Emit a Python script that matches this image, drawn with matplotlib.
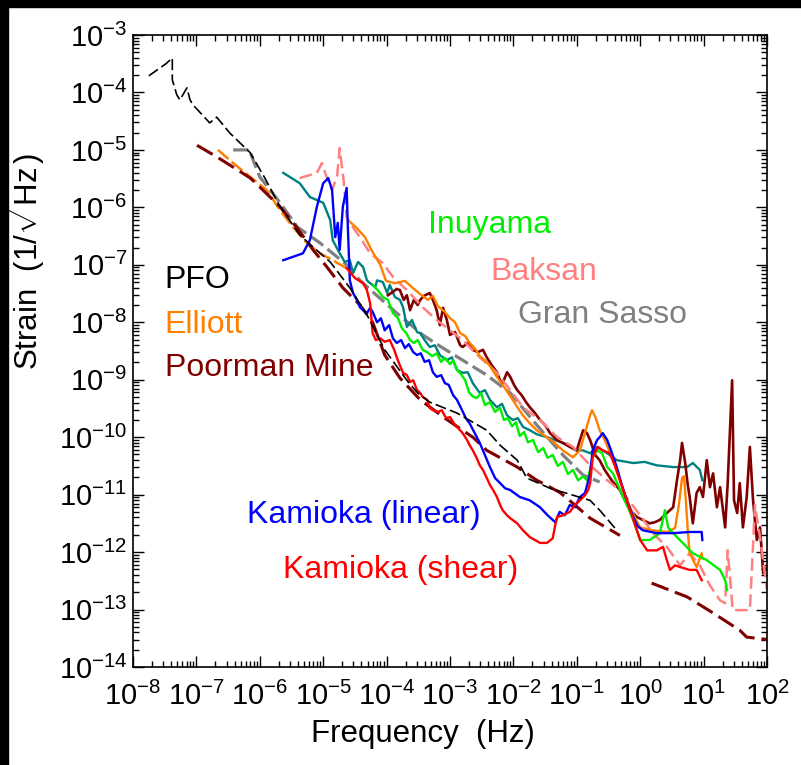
import numpy as np
import matplotlib
matplotlib.use("Agg")
import matplotlib.pyplot as plt
from matplotlib.ticker import LogLocator, NullFormatter
from matplotlib.patches import Rectangle

plt.rcParams['font.family'] = ['Liberation Sans', 'DejaVu Sans']
plt.rcParams['mathtext.fontset'] = 'custom'
plt.rcParams['mathtext.rm'] = 'Liberation Sans'
plt.rcParams['mathtext.it'] = 'Liberation Sans:italic'
plt.rcParams['lines.scale_dashes'] = False

# spectra, stored as log10(frequency / Hz) and log10(strain)
pfo_logf = [-7.75, -7.48, -7.38, -7.38, -7.31, -7.26, -7.15, -7.10, -7.05, -6.79, -6.68, -6.47,
            -6.15, -5.92, -5.68, -5.37, -5.16, -4.89, -4.58, -4.31, -4.03, -3.66, -3.51, -3.32,
            -2.89, -2.42, -2.21, -1.94, -1.79, -1.42, -0.79, -0.64, -0.40]
pfo_logs = [-3.71, -3.50, -3.40, -3.78, -4.04, -4.13, -3.92, -4.13, -4.22, -4.53, -4.43, -4.71,
            -5.05, -5.49, -5.99, -6.48, -6.69, -6.95, -7.40, -7.87, -8.48, -9.04, -9.23, -9.39,
            -9.58, -9.88, -10.14, -10.40, -10.71, -10.89, -11.10, -11.27, -11.58]

elliott_lo_logf = [-6.66, -6.42, -6.15, -5.89, -5.68, -5.48, -5.26, -5.05, -4.85, -4.63]
elliott_lo_logs = [-5.00, -5.23, -5.47, -5.70, -6.05, -6.34, -6.62, -6.80, -6.92, -7.06]

elliott_logf = [-4.61, -4.47, -4.34, -4.22, -4.10, -4.01, -3.87, -3.71, -3.60, -3.47, -3.35, -3.27,
                -3.19, -3.08, -3.00, -2.92, -2.84, -2.76, -2.69, -2.61, -2.53, -2.45, -2.37, -2.26,
                -2.17, -2.09, -2.01, -1.93, -1.85, -1.74, -1.63, -1.50, -1.38, -1.22, -1.06, -0.95,
                -0.86, -0.79, -0.76, -0.70, -0.64, -0.56, -0.48, -0.40, -0.32, -0.24, -0.16, -0.08,
                0.00, 0.20, 0.42, 0.55, 0.61, 0.66, 0.69, 0.72, 0.75, 0.78, 0.89, 0.97, 0.98]
elliott_logs = [-6.22, -6.36, -6.52, -6.78, -7.00, -7.28, -7.32, -7.28, -7.39, -7.51, -7.61, -7.54,
                -7.72, -7.82, -7.93, -8.00, -8.19, -8.24, -8.36, -8.45, -8.59, -8.66, -8.76, -8.95,
                -9.09, -9.22, -9.35, -9.49, -9.62, -9.76, -9.88, -9.98, -10.07, -10.23, -10.35, -10.23,
                -9.88, -9.62, -9.53, -9.67, -9.88, -10.05, -10.26, -10.50, -10.75, -11.01, -11.22, -11.41,
                -11.57, -11.62, -11.65, -11.58, -11.18, -10.71, -10.68, -11.10, -11.62, -12.02, -12.26, -12.02, -12.11]

baksan_logf = [-5.37, -5.10, -5.02, -4.94, -4.86, -4.78, -4.74, -4.67, -4.63, -4.58, -4.42, -4.26,
               -4.06, -3.90, -3.68, -3.43, -3.21, -3.00, -2.80, -2.53, -2.26, -2.05, -1.85, -1.58,
               -1.31, -1.06, -0.79, -0.52, -0.27, 0.00, 0.20, 0.42, 0.63, 0.78, 0.94, 1.10,
               1.26, 1.34, 1.38, 1.46, 1.73, 1.78, 1.81, 1.89, 2.00]
baksan_logs = [-5.49, -5.40, -5.23, -5.49, -5.70, -5.45, -4.97, -5.61, -6.17, -6.27, -6.52, -6.80,
               -6.97, -7.21, -7.44, -7.74, -7.96, -8.14, -8.31, -8.61, -8.88, -9.18, -9.48, -9.70,
               -10.00, -10.17, -10.49, -10.75, -10.97, -11.36, -11.67, -11.91, -12.23, -12.02, -12.23, -12.58,
               -12.84, -12.89, -11.97, -13.01, -13.01, -11.88, -11.18, -11.74, -12.66]

gransasso_logf = [-6.42, -6.15, -6.15, -6.00, -5.68, -5.41, -5.05, -4.63, -4.42, -4.22, -3.84, -3.43,
                  -3.11, -2.80, -2.42, -2.05, -1.63, -1.22, -0.90, -0.64]
gransasso_logs = [-5.00, -5.00, -5.05, -5.47, -5.92, -6.34, -6.62, -7.00, -7.27, -7.47, -7.84, -8.22,
                  -8.45, -8.66, -8.92, -9.23, -9.79, -10.31, -10.66, -10.78]

poorman_lo_logf = [-6.99, -6.68, -6.42, -6.15, -5.95, -5.68, -5.41, -5.16, -4.94, -4.69, -4.42, -4.22,
                   -4.03, -3.79, -3.47, -3.08, -2.64, -2.42, -1.94, -1.63, -1.27, -1.03, -0.79, -0.32]
poorman_lo_logs = [-4.92, -5.12, -5.30, -5.49, -5.70, -5.99, -6.36, -6.74, -7.04, -7.40, -7.70, -8.00,
                   -8.57, -8.97, -9.35, -9.67, -10.00, -10.23, -10.52, -10.75, -10.96, -11.18, -11.41, -11.71]

poorman_hi_logf = [0.18, 0.74, 1.15, 1.57, 1.68, 2.00]
poorman_hi_logs = [-12.54, -12.78, -13.06, -13.36, -13.48, -13.52]

poorman_logf = [-3.98, -3.90, -3.84, -3.79, -3.73, -3.68, -3.63, -3.57, -3.51, -3.47, -3.41, -3.32,
                -3.27, -3.21, -3.16, -3.11, -3.05, -3.00, -2.92, -2.84, -2.80, -2.72, -2.64, -2.56,
                -2.48, -2.42, -2.34, -2.26, -2.21, -2.17, -2.10, -2.05, -1.99, -1.94, -1.87, -1.80,
                -1.74, -1.66, -1.58, -1.50, -1.42, -1.31, -1.22, -1.11, -1.00, -0.95, -0.90, -0.84,
                -0.79, -0.71, -0.64, -0.56, -0.45, -0.32, -0.24, -0.16, -0.05, 0.04, 0.15, 0.23,
                0.31, 0.42, 0.52, 0.58, 0.63, 0.66, 0.71, 0.75, 0.78, 0.83, 0.89, 0.94,
                0.99, 1.05, 1.10, 1.15, 1.21, 1.26, 1.34, 1.38, 1.45, 1.48, 1.53, 1.57,
                1.62, 1.68, 1.73, 1.78, 1.84, 1.89, 1.94, 2.00]
poorman_logs = [-7.53, -7.47, -7.42, -7.44, -7.61, -7.53, -7.79, -7.61, -7.70, -7.61, -7.54, -7.49,
                -7.61, -7.79, -8.05, -7.75, -7.96, -8.22, -8.17, -8.40, -8.43, -8.36, -8.48, -8.52,
                -8.48, -8.61, -8.75, -8.87, -9.01, -9.06, -8.87, -8.95, -9.09, -9.18, -9.27, -9.39,
                -9.48, -9.58, -9.70, -9.79, -9.93, -10.05, -10.10, -10.17, -10.23, -10.05, -9.88, -9.93,
                -10.05, -10.31, -10.40, -10.57, -10.75, -10.92, -11.10, -11.27, -11.39, -11.44, -11.50, -11.48,
                -11.44, -11.32, -11.22, -10.75, -10.40, -10.10, -10.45, -10.83, -11.04, -11.50, -10.97, -10.87,
                -11.04, -10.40, -10.87, -10.63, -11.22, -10.87, -11.57, -10.80, -9.01, -11.10, -11.32, -10.80,
                -11.57, -11.04, -10.17, -11.10, -11.79, -11.57, -12.37, -12.26]

inuyama_logf = [-4.22, -4.14, -4.06, -3.98, -3.90, -3.82, -3.76, -3.69, -3.63, -3.57, -3.51, -3.43,
                -3.36, -3.28, -3.21, -3.14, -3.08, -3.00, -2.95, -2.89, -2.83, -2.76, -2.70, -2.64,
                -2.58, -2.51, -2.45, -2.37, -2.29, -2.21, -2.15, -2.09, -2.02, -1.96, -1.90, -1.83,
                -1.77, -1.69, -1.61, -1.53, -1.46, -1.38, -1.30, -1.22, -1.14, -1.06, -0.98, -0.90,
                -0.84, -0.79, -0.75, -0.68, -0.60, -0.52, -0.43, -0.35, -0.27, -0.19, -0.11, 0.00,
                0.15, 0.31, 0.39, 0.44, 0.52, 0.67, 0.83, 1.05, 1.26, 1.34, 1.37]
inuyama_logs = [-7.35, -7.44, -7.56, -7.61, -7.84, -7.93, -8.10, -8.19, -8.31, -8.36, -8.31, -8.48,
                -8.52, -8.59, -8.54, -8.69, -8.62, -8.73, -8.66, -8.83, -8.90, -9.01, -9.22, -9.29,
                -9.32, -9.23, -9.44, -9.39, -9.56, -9.49, -9.70, -9.67, -9.81, -9.74, -9.98, -9.91,
                -10.09, -10.05, -10.26, -10.19, -10.36, -10.31, -10.50, -10.43, -10.64, -10.57, -10.75, -10.68,
                -10.75, -10.57, -10.35, -10.23, -10.28, -10.52, -10.63, -10.83, -11.04, -11.23, -11.44, -11.79,
                -11.79, -11.67, -11.27, -11.57, -11.67, -11.84, -12.02, -12.14, -12.31, -12.49, -12.66]

teal_logf = [-5.63, -5.37, -5.21, -5.00, -4.89, -4.85, -4.74, -4.66, -4.58, -4.53, -4.45, -4.37,
             -4.31, -4.26, -4.18, -4.15, -4.06, -3.99, -3.95, -3.87, -3.79, -3.74, -3.68, -3.60,
             -3.52, -3.47, -3.40, -3.32, -3.24, -3.16, -3.05, -2.97, -2.89, -2.80, -2.72, -2.64,
             -2.53, -2.45, -2.37, -2.26, -2.18, -2.10, -2.01, -1.93, -1.85, -1.74, -1.63, -1.47,
             -1.34, -1.22, -1.11, -1.01, -0.90, -0.79, -0.68, -0.52, -0.37, -0.11, 0.07, 0.26,
             0.52, 0.74, 0.83, 0.94, 0.98]
teal_logs = [-5.40, -5.58, -5.82, -5.92, -6.22, -6.57, -6.80, -6.95, -6.92, -7.14, -6.95, -7.04,
             -7.27, -7.32, -7.39, -7.27, -7.30, -7.49, -7.35, -7.56, -7.61, -7.74, -8.08, -7.96,
             -8.17, -8.19, -8.31, -8.43, -8.40, -8.57, -8.66, -8.61, -8.83, -8.88, -8.87, -9.06,
             -9.23, -9.18, -9.35, -9.48, -9.42, -9.62, -9.70, -9.67, -9.82, -9.88, -9.95, -10.00,
             -10.05, -10.10, -10.14, -10.23, -10.23, -10.28, -10.17, -10.28, -10.40, -10.45, -10.43, -10.49,
             -10.52, -10.52, -10.45, -10.57, -10.75]

linear_logf = [-5.63, -5.32, -5.21, -5.10, -5.00, -4.92, -4.86, -4.81, -4.77, -4.74, -4.69, -4.63,
               -4.61, -4.58, -4.53, -4.47, -4.42, -4.37, -4.31, -4.26, -4.22, -4.15, -4.09, -4.03,
               -3.96, -3.90, -3.84, -3.77, -3.71, -3.65, -3.58, -3.52, -3.46, -3.40, -3.33, -3.27,
               -3.21, -3.14, -3.08, -3.02, -2.95, -2.89, -2.81, -2.75, -2.69, -2.61, -2.53, -2.45,
               -2.37, -2.29, -2.21, -2.13, -2.05, -1.90, -1.74, -1.58, -1.46, -1.34, -1.27, -1.19,
               -1.11, -1.03, -0.95, -0.87, -0.79, -0.75, -0.68, -0.64, -0.59, -0.52, -0.45, -0.37,
               -0.29, -0.21, -0.11, -0.04, 0.04, 0.26, 0.52, 0.78, 0.97, 0.98]
linear_logs = [-6.92, -6.80, -6.57, -5.99, -5.58, -5.49, -5.70, -6.52, -6.27, -6.74, -5.99, -5.66,
               -6.39, -7.27, -7.49, -7.61, -7.74, -7.79, -7.84, -7.75, -7.82, -8.00, -7.93, -8.14,
               -8.05, -8.28, -8.36, -8.31, -8.45, -8.38, -8.52, -8.57, -8.54, -8.69, -8.66, -8.87,
               -8.95, -8.92, -9.06, -9.09, -9.27, -9.35, -9.53, -9.67, -9.76, -9.93, -10.10, -10.31,
               -10.52, -10.71, -10.80, -10.89, -10.92, -11.04, -11.10, -11.22, -11.36, -11.48, -11.30, -11.36,
               -11.18, -11.22, -11.04, -10.97, -10.63, -10.23, -10.05, -10.00, -9.93, -10.05, -10.26, -10.52,
               -10.83, -11.10, -11.39, -11.55, -11.62, -11.67, -11.67, -11.65, -11.65, -11.79]

shear_logf = [-4.63, -4.50, -4.37, -4.31, -4.26, -4.22, -4.17, -4.10, -4.03, -3.95, -3.88, -3.84,
              -3.79, -3.74, -3.68, -3.63, -3.58, -3.52, -3.47, -3.43, -3.36, -3.32, -3.27, -3.19,
              -3.13, -3.06, -3.00, -2.92, -2.84, -2.80, -2.73, -2.69, -2.64, -2.58, -2.53, -2.48,
              -2.42, -2.37, -2.32, -2.26, -2.21, -2.17, -2.10, -2.05, -1.94, -1.85, -1.74, -1.66,
              -1.58, -1.47, -1.38, -1.34, -1.31, -1.22, -1.11, -1.03, -0.95, -0.87, -0.82, -0.79,
              -0.75, -0.67, -0.59, -0.48, -0.40, -0.32, -0.24, -0.16, -0.08, 0.00, 0.11, 0.26,
              0.36, 0.42, 0.47, 0.55, 0.63, 0.78, 0.89, 0.97]
shear_logs = [-7.06, -7.23, -7.32, -7.44, -7.67, -8.19, -8.31, -8.28, -8.34, -8.31, -8.48, -8.61,
              -8.75, -8.88, -8.92, -9.04, -9.01, -9.18, -9.23, -9.30, -9.35, -9.49, -9.53, -9.56,
              -9.53, -9.67, -9.65, -9.79, -9.88, -9.93, -10.05, -10.14, -10.23, -10.36, -10.49, -10.57,
              -10.71, -10.83, -10.92, -11.04, -11.18, -11.27, -11.36, -11.41, -11.50, -11.62, -11.74, -11.79,
              -11.84, -11.84, -11.76, -11.53, -11.39, -11.36, -11.30, -11.18, -11.10, -11.01, -10.92, -10.80,
              -10.35, -10.17, -10.23, -10.28, -10.49, -10.75, -11.01, -11.27, -11.53, -11.79, -11.97, -11.97,
              -11.91, -12.14, -12.31, -12.23, -12.26, -12.31, -12.31, -12.49]

labels = ['PFO', 'Elliott', 'Poorman Mine', 'Inuyama', 'Baksan', 'Gran Sasso',
          'Kamioka (linear)', 'Kamioka (shear)']
label_colors = ['black', '#ff8000', '#800000', '#00ee00', '#ff8080', '#808080',
                '#0000ff', '#ff0000']
label_pos = [(0.050, 0.600), (0.050, 0.528), (0.050, 0.460), (0.465, 0.687),
             (0.564, 0.612), (0.607, 0.544), (0.180, 0.228), (0.237, 0.141)]


def p(lf, ls):
    return 10 ** np.asarray(lf), 10 ** np.asarray(ls)


fig = plt.figure(figsize=(8.01, 7.65), dpi=100)
ax = fig.add_axes([133 / 801, 1 - 667 / 765, 634 / 801, 632 / 765])

ax.plot(*p(gransasso_logf, gransasso_logs), color='#808080', lw=2.3, dashes=(11, 4))
ax.plot(*p(teal_logf, teal_logs), color='#008080', lw=1.7)
ax.plot(*p(poorman_logf, poorman_logs), color='#800000', lw=1.9)
ax.plot(*p(baksan_logf, baksan_logs), color='#ff8080', lw=1.8, dashes=(9, 4))
ax.plot(*p(elliott_lo_logf, elliott_lo_logs), color='#ff8000', lw=1.8, dashes=(10, 3))
ax.plot(*p(elliott_logf, elliott_logs), color='#ff8000', lw=1.7)
ax.plot(*p(poorman_lo_logf, poorman_lo_logs), color='#800000', lw=2.2, dashes=(13, 5))
ax.plot(*p(poorman_hi_logf, poorman_hi_logs), color='#800000', lw=2.2, dashes=(13, 5))
ax.plot(*p(inuyama_logf, inuyama_logs), color='#00ee00', lw=1.7)
ax.plot(*p(linear_logf, linear_logs), color='#0000ff', lw=1.7)
ax.plot(*p(shear_logf, shear_logs), color='#ff0000', lw=1.7)
ax.plot(*p(pfo_logf, pfo_logs), color='black', lw=1.2, dashes=(8, 3))

ax.set_xscale('log')
ax.set_yscale('log')
ax.set_xlim(1e-8, 1e2)
ax.set_ylim(1e-14, 1e-3)

for axis in (ax.xaxis, ax.yaxis):
    axis.set_major_locator(LogLocator(base=10, numticks=30))
    axis.set_minor_locator(LogLocator(base=10, subs=np.arange(2, 10), numticks=300))
    axis.set_minor_formatter(NullFormatter())
ax.tick_params(which='both', direction='in', top=True, right=True, width=1.0)
ax.tick_params(which='major', length=8, labelsize=21)
ax.tick_params(which='minor', length=4)
ax.tick_params(axis='x', which='major', pad=11)
ax.tick_params(axis='y', which='major', pad=4)
for s in ax.spines.values():
    s.set_linewidth(1.2)

ax.set_xlabel('Frequency  (Hz)', fontsize=22.5)
ax.xaxis.set_label_coords(0.457, -0.082)
ax.set_ylabel(r'Strain  (1/$\sqrt{\mathrm{Hz}}$)', fontsize=22.5)
ax.yaxis.set_label_coords(-0.136, 0.642)

for txt, col, (tx, ty) in zip(labels, label_colors, label_pos):
    ax.text(tx, ty, txt, color=col, fontsize=23, transform=ax.transAxes, va='baseline', ha='left')

# black frame strips at the top and left of the original picture
fig.patches.append(Rectangle((0, 1 - 7 / 765), 1, 7 / 765, transform=fig.transFigure,
                             color='black', zorder=10))
fig.patches.append(Rectangle((0, 0), 8 / 801, 1, transform=fig.transFigure,
                             color='black', zorder=10))

fig.savefig('out.png', dpi=100)
